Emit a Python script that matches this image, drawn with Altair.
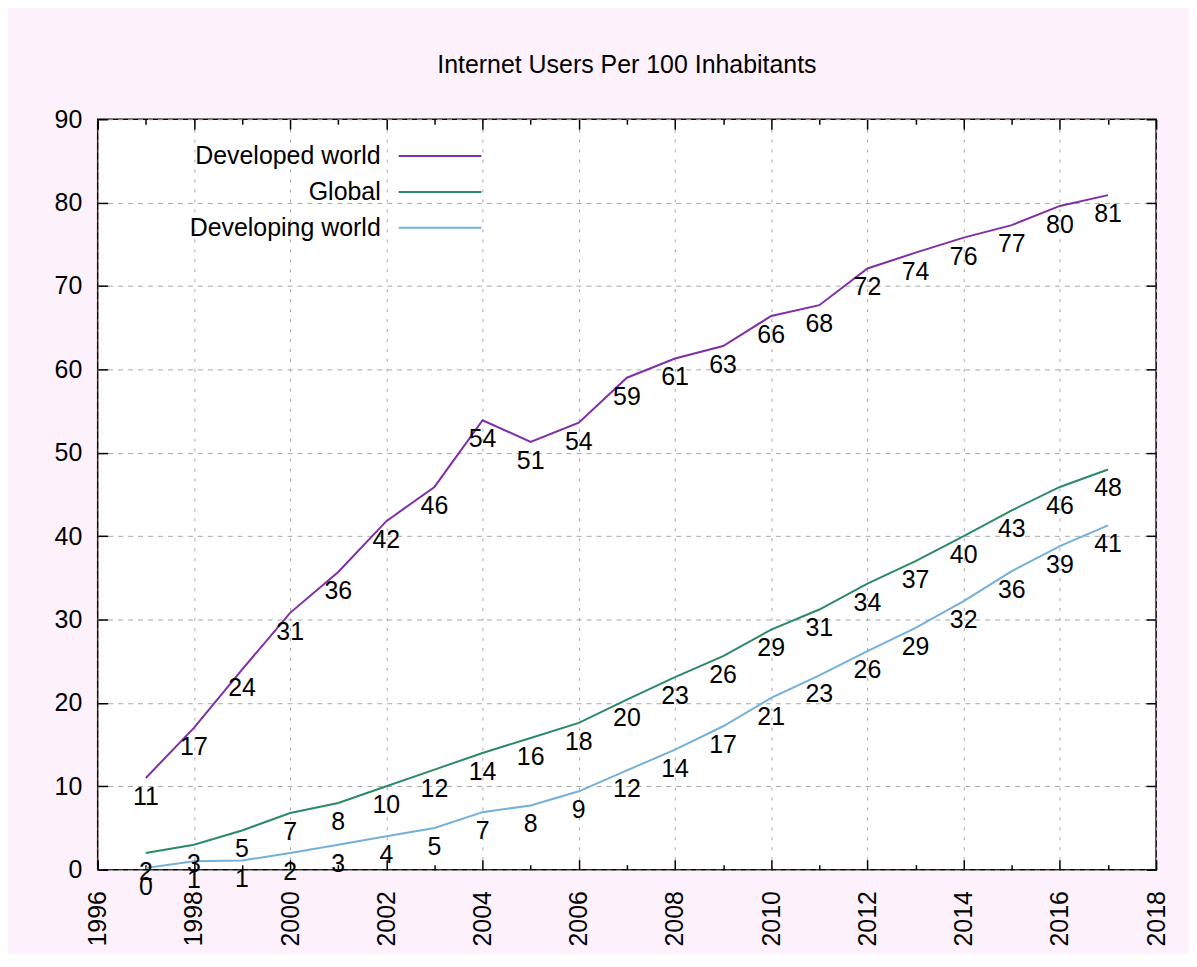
import altair as alt
import pandas as pd

# ---- data ----
years = list(range(1997, 2018))
series_names = ["Developed world", "Global", "Developing world"]
developed = [11.0, 17.0, 24.0, 30.8, 35.7, 41.8, 45.9, 53.9, 51.3, 53.6, 59.0,
             61.3, 62.8, 66.4, 67.7, 72.1, 74.0, 75.8, 77.3, 79.6, 80.9]
global_ = [2.0, 3.0, 4.7, 6.8, 8.0, 10.0, 12.0, 14.0, 15.8, 17.6, 20.4,
           23.1, 25.6, 28.8, 31.2, 34.3, 37.0, 40.0, 43.1, 45.9, 48.0]
developing = [0.2, 1.0, 1.1, 2.0, 3.0, 4.0, 5.0, 6.9, 7.7, 9.4, 11.9,
              14.4, 17.2, 20.6, 23.3, 26.2, 29.0, 32.2, 35.8, 38.8, 41.3]
series_colors = ["#7f2fa8", "#2b8a64", "#74b0d8"]

major_years = list(range(1996, 2019, 2))
minor_years = list(range(1997, 2018, 2))
y_ticks = list(range(0, 91, 10))
title_text = "Internet Users Per 100 Inhabitants"

rows = []
for name, vals in zip(series_names, [developed, global_, developing]):
    for yr, v in zip(years, vals):
        rows.append({"year": yr, "series": name, "value": v})
df = pd.DataFrame(rows)
legend_df = pd.DataFrame({"series": series_names})

FONT = "Liberation Sans"
FS = 25
xs = alt.Scale(domain=[1996, 2018], nice=False, zero=False)
ys = alt.Scale(domain=[0, 90], nice=False)
cs = alt.Scale(domain=series_names, range=series_colors)

base = alt.Chart(df)

lines = base.mark_line(strokeWidth=2).encode(
    x=alt.X("year:Q", scale=xs, title=None,
            axis=alt.Axis(orient="bottom", values=major_years, format="d",
                          labelAngle=270, ticks=False, tickSize=0, domain=False,
                          grid=True, gridDash=[3, 7], gridColor="#a8a8a8", gridWidth=1,
                          labelPadding=21, labelFontSize=FS, labelFont=FONT,
                          labelColor="black", labelOverlap=False, labelFlush=False)),
    y=alt.Y("value:Q", scale=ys, title=None,
            axis=alt.Axis(orient="left", values=y_ticks, ticks=False, tickSize=0,
                          domain=False, grid=True, gridDash=[5, 5], gridColor="#a8a8a8",
                          gridWidth=1, labelPadding=16, labelFontSize=FS, labelFont=FONT,
                          labelColor="black", labelOverlap=False, labelFlush=False)),
    color=alt.Color("series:N", scale=cs, legend=None),
)

tick_style = dict(tickColor="black", tickWidth=1.5, labels=False, domain=False, grid=False)

labels = base.mark_text(dy=19, fontSize=FS, font=FONT, color="black",
                        baseline="middle").encode(
    x=alt.X("year:Q", scale=xs, title=None,
            axis=alt.Axis(orient="bottom", offset=-10, values=major_years,
                          tickSize=10, **tick_style)),
    y=alt.Y("value:Q", scale=ys, title=None,
            axis=alt.Axis(orient="left", offset=-10, values=y_ticks,
                          tickSize=10, **tick_style)),
    text=alt.Text("value:Q", format=".0f"),
)

mirror = base.mark_point(opacity=0).encode(
    x=alt.X("year:Q", scale=xs, title=None,
            axis=alt.Axis(orient="top", offset=-10, values=major_years,
                          tickSize=10, **tick_style)),
    y=alt.Y("value:Q", scale=ys, title=None,
            axis=alt.Axis(orient="right", offset=-10, values=y_ticks,
                          tickSize=10, **tick_style)),
)

minor_bottom = base.mark_point(opacity=0).encode(
    x=alt.X("year:Q", scale=xs, title=None,
            axis=alt.Axis(orient="bottom", offset=-5, values=minor_years,
                          tickSize=5, **tick_style)),
    y=alt.Y("value:Q", scale=ys, axis=None),
)

minor_top = base.mark_point(opacity=0).encode(
    x=alt.X("year:Q", scale=xs, title=None,
            axis=alt.Axis(orient="top", offset=-5, values=minor_years,
                          tickSize=5, **tick_style)),
    y=alt.Y("value:Q", scale=ys, axis=None),
)

# gnuplot-style key: right-aligned label, then a line sample
key_y = alt.Y("series:N", axis=None,
              scale=alt.Scale(type="point", domain=series_names, range=[37, 109], padding=0))
key_text = alt.Chart(legend_df).mark_text(
    align="right", baseline="middle", fontSize=FS, font=FONT, color="black"
).encode(x=alt.value(284), y=key_y, text="series:N")
key_line = alt.Chart(legend_df).mark_rule(strokeWidth=2).encode(
    x=alt.value(302), x2=alt.value(385), y=key_y,
    color=alt.Color("series:N", scale=cs, legend=None),
)

chart = alt.layer(
    lines, labels, mirror, minor_bottom, minor_top, key_text, key_line
).resolve_axis(
    x="independent", y="independent"
).resolve_scale(
    y="independent"
).properties(
    width=1062,
    height=753,
    padding={"left": 90, "top": 110, "right": 33, "bottom": 83},
    autosize=alt.AutoSizeParams(type="none"),
    background="#fdf1fb",
    title=alt.Title(title_text, fontSize=FS, font=FONT, fontWeight="normal",
                    color="black", anchor="middle", baseline="alphabetic", offset=9),
).configure_view(stroke="black", strokeWidth=1.5, fill="white")

chart.save("out.html", embed_options={"renderer": "svg", "actions": False})
